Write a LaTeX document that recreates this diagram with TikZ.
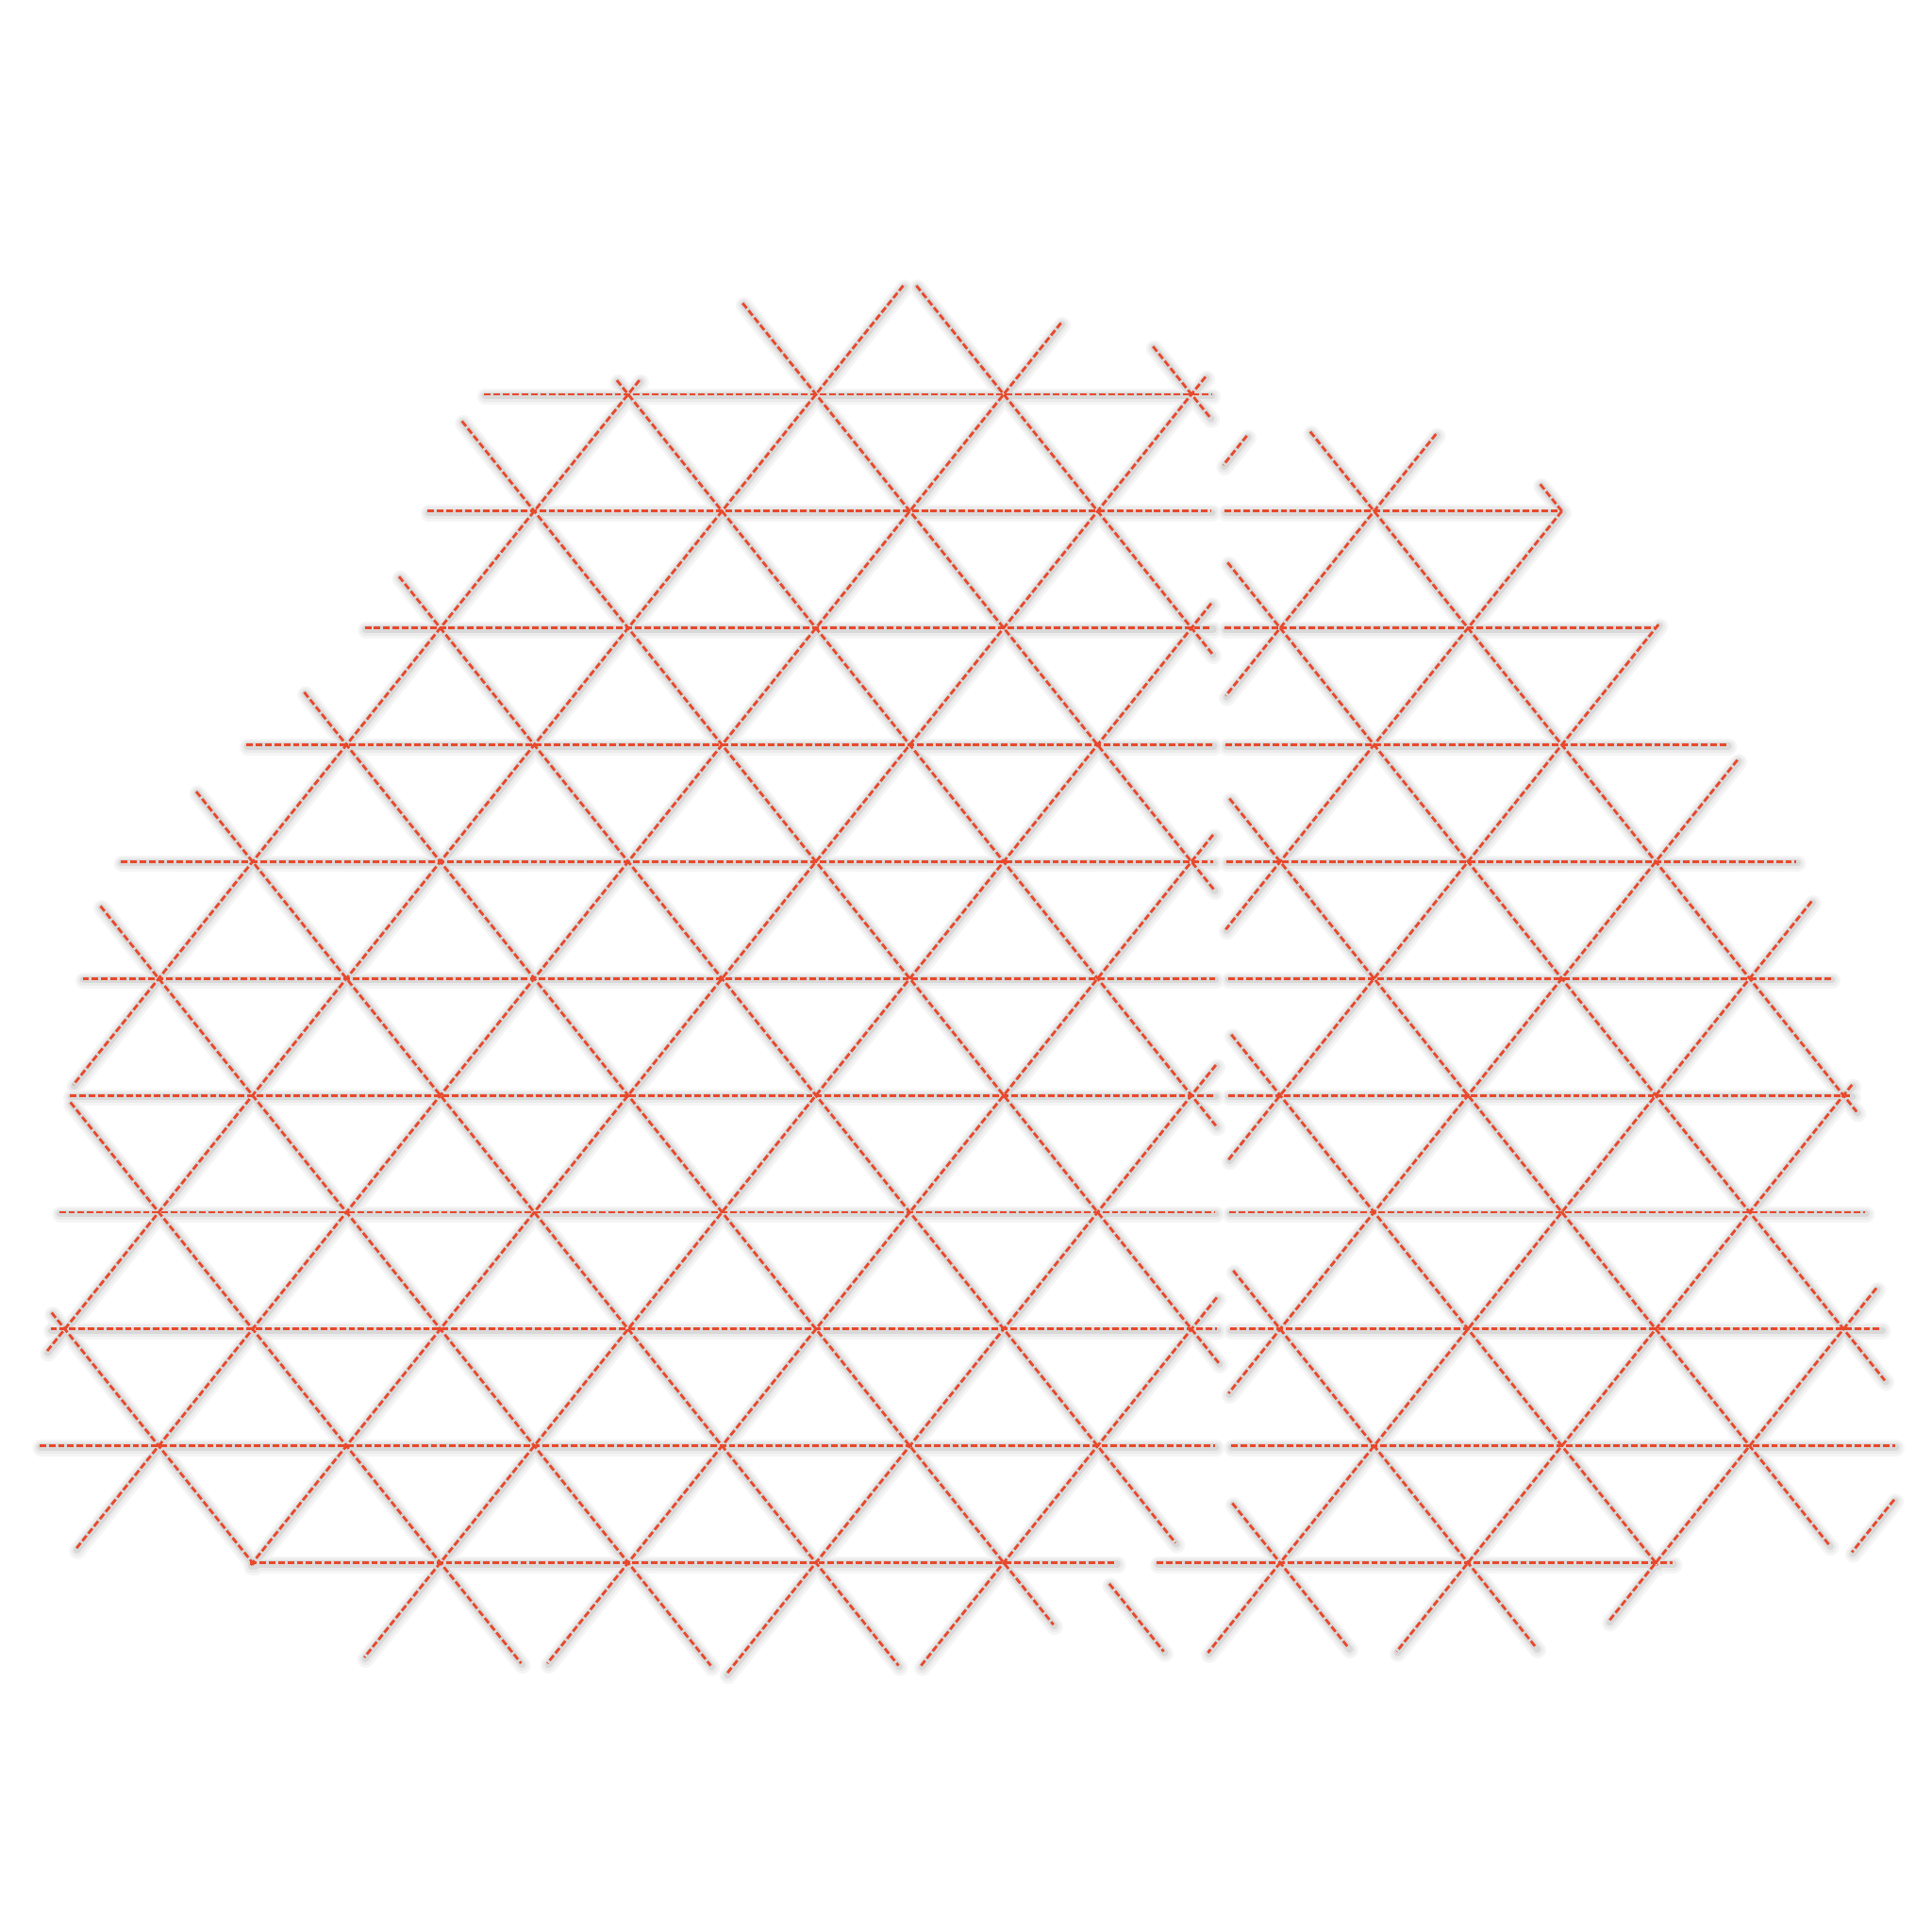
\documentclass[tikz,border=0pt]{standalone}
\definecolor{lnred}{RGB}{232,72,44}
\tikzset{
  shadowA/.style={draw=black!4, line width=3.8pt, line cap=round},
  shadowB/.style={draw=black!8, line width=2.7pt, line cap=round},
  shadowC/.style={draw=black!15, line width=1.6pt, line cap=round},
  redline/.style={draw=lnred, line width=0.6pt, dash pattern=on 1.5pt off 0.65pt},
}
% left grid: "/" x = P - 76.2 t ; "\" x = P + 76.2 t ; y = 320 + 94.83 t
\newcommand\gridlines[1]{%
  % left "/"
  \foreach \P/\a/\b in {967/-0.15/10.02, 814.6/-0.61/9.88, 662.2/-0.93/8.19, 509.8/-0.12/5.91,
      1119.4/1.79/10.81, 1271.8/3.77/10.86, 1424.2/5.74/10.95, 1576.6/7.73/10.88}
    \draw[#1] ({\P-76.2*\a},{320+94.83*\a}) -- ({\P-76.2*\b},{320+94.83*\b});
  % left "\"
  \foreach \P/\a/\b in {967/-0.41/0.2, 814.6/-0.93/2.22, 662.2/-0.78/4.24, 509.8/-0.12/6.26,
      357.4/0.23/8.29, 205/1.56/9.83, 52.6/2.55/10.53, -99.8/3.4/10.88, -252.2/4.38/10.88,
      -404.6/6.06/10.86, -557/7.86/10.02}
    \draw[#1] ({\P+76.2*\a},{320+94.83*\a}) -- ({\P+76.2*\b},{320+94.83*\b});
  % left horizontals
  \foreach \r/\a/\b in {0/393/983, 1/347/983, 2/296/984, 3/200/984.5, 4/98/984.7, 5/67/986,
      6/57/986, 7/48/986, 8/41/987.7, 9/32/986, 10/203/906}
    \draw[#1] (\a,{320+94.83*\r}) -- (\b,{320+94.83*\r});
  % right "/"
  \foreach \P/\a/\b in {1039/0.355/0.606, 1191.4/0.34/2.58, 1343.8/1.0/4.58, 1496.2/1.97/6.55,
      1648.6/3.13/8.55, 1801/4.34/10.77, 1953.4/5.91/10.76, 2105.8/7.65/10.5, 2258.2/9.46/9.91}
    \draw[#1] ({\P-76.2*\a},{320+94.83*\a}) -- ({\P-76.2*\b},{320+94.83*\b});
  % right "\"
  \foreach \P/\a/\b in {1191.4/0.77/1.0, 1039/0.32/6.14, 886.6/1.44/8.44, 734.2/3.46/9.85,
      581.8/5.48/10.02, 429.4/7.5/10.73, 277/9.49/10.73, 124.6/10.18/10.76}
    \draw[#1] ({\P+76.2*\a},{320+94.83*\a}) -- ({\P+76.2*\b},{320+94.83*\b});
  % right horizontals
  \foreach \r/\a/\b in {1/994/1267.6, 2/994/1343, 3/994.8/1402, 4/995.3/1458, 5/996.6/1486,
      6/997/1502.7, 7/997.9/1513.7, 8/998.4/1527, 9/999/1538, 10/939/1357.7}
    \draw[#1] (\a,{320+94.83*\r}) -- (\b,{320+94.83*\r});
}
\begin{document}
\begin{tikzpicture}[x=0.01cm,y=-0.01cm]
  \fill[white] (0,0) rectangle (1568,1568);
  \useasboundingbox (0,0) rectangle (1568,1568);
  \begin{scope}[xshift=0.3pt,yshift=-0.5pt]
    \gridlines{shadowA}
  \end{scope}
  \begin{scope}[xshift=0.25pt,yshift=-0.4pt]
    \gridlines{shadowB}
  \end{scope}
  \begin{scope}[xshift=0.2pt,yshift=-0.3pt]
    \gridlines{shadowC}
  \end{scope}
  \gridlines{redline}
\end{tikzpicture}
\end{document}
